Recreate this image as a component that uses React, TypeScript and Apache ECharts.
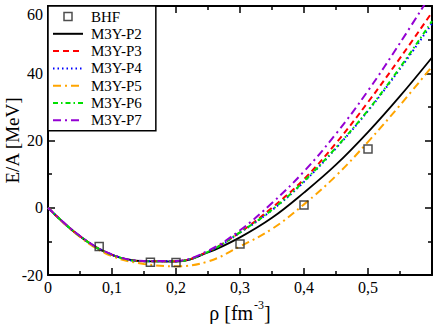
import React, { useEffect, useRef } from "react";
import * as echarts from "echarts";

const RHO = [0, 0.05, 0.1, 0.15, 0.2, 0.25, 0.3, 0.35, 0.4, 0.45, 0.5, 0.55, 0.6];
const P2 = [0, -8.5, -14.0, -15.9, -16.0, -13.3, -8.8, -3.0, 4.5, 12.8, 22.5, 33.2, 44.7];
const P3 = [0, -8.5, -14.0, -15.9, -15.9, -13.0, -7.3, 0.0, 8.5, 19.2, 31.4, 44.5, 58.1];
const P4 = [0, -8.5, -14.0, -15.9, -15.9, -13.1, -7.4, -0.7, 7.7, 17.7, 28.8, 41.3, 54.8];
const P5 = [0, -8.7, -14.4, -16.7, -17.4, -16.0, -11.5, -6.3, 1.0, 9.5, 19.6, 30.5, 42.0];
const P6 = [0, -8.5, -14.0, -15.9, -15.9, -13.1, -7.3, -0.6, 7.9, 17.9, 29.0, 41.7, 55.5];
const P7 = [0, -8.4, -13.9, -15.8, -15.8, -12.8, -6.7, 1.4, 10.8, 22.0, 34.8, 49.0, 64.0];

const BHF_RHO = [0.08, 0.16, 0.2, 0.3, 0.4, 0.5];
const BHF_E = [-11.5, -16.2, -16.3, -10.8, 0.8, 17.5];

const X_TICKS_LABELS = ["0", "0,1", "0,2", "0,3", "0,4", "0,5"];

const FONT = "Liberation Serif";

const zip = (xs: number[], ys: number[]) => xs.map((x, i) => [x, ys[i]]);

const CURVES = [
  { name: "M3Y-P2", data: P2, color: "#000000", type: "solid" as any, width: 1.8 },
  { name: "M3Y-P3", data: P3, color: "#ff0000", type: [6, 4], width: 2 },
  { name: "M3Y-P4", data: P4, color: "#0000ff", type: [1.5, 3], width: 2 },
  { name: "M3Y-P5", data: P5, color: "#ffa500", type: [8, 4, 2, 4], width: 2 },
  { name: "M3Y-P6", data: P6, color: "#00e000", type: [5, 3, 1.5, 3], width: 2 },
  { name: "M3Y-P7", data: P7, color: "#9400d3", type: [8, 4, 2, 4], width: 2 },
];

const SQUARE_ICON = "path://M0,0L0,0M30,12L30,12M11,2L19,2L19,10L11,10Z";

export default function App() {
  const ref = useRef<HTMLDivElement>(null);
  useEffect(() => {
    if (!ref.current) return;
    const chart = echarts.init(ref.current, undefined, { renderer: "svg" });
    const axisCommon = {
      axisLine: { show: true, onZero: false, lineStyle: { color: "#000", width: 2 } },
      axisTick: { show: true, inside: true, length: 7, lineStyle: { color: "#000", width: 1.5 } },
      minorTick: { show: true, splitNumber: 2, length: 4, lineStyle: { color: "#000", width: 1.5 } },
      splitLine: { show: false },
      minorSplitLine: { show: false },
    };
    chart.setOption({
      animation: false,
      backgroundColor: "#fff",
      grid: { left: 48, right: 2, top: 6, bottom: 49, containLabel: false, outerBoundsMode: "none" },
      legend: {
        left: 48,
        top: 6,
        orient: "vertical",
        itemWidth: 30,
        itemHeight: 12,
        itemGap: 2.3,
        padding: [3, 14, 3, 4],
        borderColor: "#000",
        borderWidth: 1.5,
        borderRadius: 0,
        backgroundColor: "#fff",
        textStyle: { fontFamily: FONT, fontSize: 15, color: "#000", lineHeight: 15, padding: [0, 0, 0, 3] },
        data: [
          {
            name: "BHF",
            icon: SQUARE_ICON,
            itemStyle: { color: "rgba(0,0,0,0)", borderColor: "#222", borderWidth: 1.5 },
          },
          ...CURVES.map((c) => ({ name: c.name, itemStyle: { opacity: 0 } })),
        ],
      },
      xAxis: [
        {
          type: "value",
          min: 0,
          max: 0.6,
          interval: 0.1,
          position: "bottom",
          ...axisCommon,
          axisLabel: {
            fontFamily: FONT,
            fontSize: 16,
            color: "#000",
            margin: 4,
            showMaxLabel: false,
            formatter: (v: number) => {
              const i = Math.round(v * 10);
              return i < X_TICKS_LABELS.length ? X_TICKS_LABELS[i] : "";
            },
          },
          name: "{a|ρ [fm}{b|-3}{a|]}",
          nameLocation: "middle",
          nameGap: 24,
          nameMoveOverlap: false,
          nameTextStyle: {
            fontFamily: FONT,
            fontSize: 20,
            color: "#000",
            rich: {
              a: { fontFamily: FONT, fontSize: 20, color: "#000", lineHeight: 24, verticalAlign: "bottom" },
              b: { fontFamily: FONT, fontSize: 12, color: "#000", lineHeight: 24, verticalAlign: "top", padding: [0, 0, 10, 1] },
            },
          },
        },
        {
          type: "value",
          min: 0,
          max: 0.6,
          interval: 0.1,
          position: "top",
          ...axisCommon,
          axisLabel: { show: false },
        },
      ],
      yAxis: [
        {
          type: "value",
          min: -20,
          max: 60,
          interval: 20,
          position: "left",
          ...axisCommon,
          axisLabel: { fontFamily: FONT, fontSize: 16, color: "#000", margin: 5, verticalAlignMaxLabel: "top" },
          name: "E/A [MeV]",
          nameLocation: "middle",
          nameGap: 26,
          nameMoveOverlap: false,
          nameTextStyle: { fontFamily: FONT, fontSize: 19, color: "#000" },
        },
        {
          type: "value",
          min: -20,
          max: 60,
          interval: 20,
          position: "right",
          ...axisCommon,
          axisLabel: { show: false },
        },
      ],
      series: [
        {
          name: "BHF",
          type: "scatter",
          xAxisIndex: 0,
          yAxisIndex: 0,
          symbol: "rect",
          symbolSize: 8,
          itemStyle: { color: "rgba(0,0,0,0)", borderColor: "#222", borderWidth: 1.5 },
          data: zip(BHF_RHO, BHF_E),
          z: 10,
        },
        ...CURVES.map((c) => ({
          name: c.name,
          type: "line",
          xAxisIndex: 0,
          yAxisIndex: 0,
          smooth: 0.4,
          symbol: "none",
          showSymbol: false,
          color: c.color,
          lineStyle: { color: c.color, width: c.width, type: c.type },
          data: zip(RHO, c.data),
        })),
      ],
    });
    return () => chart.dispose();
  }, []);
  return (
    <div style={{ position: "fixed", left: 0, top: 0, width: 434, height: 324, background: "#fff" }}>
      <div ref={ref} style={{ width: 434, height: 324 }} />
    </div>
  );
}
